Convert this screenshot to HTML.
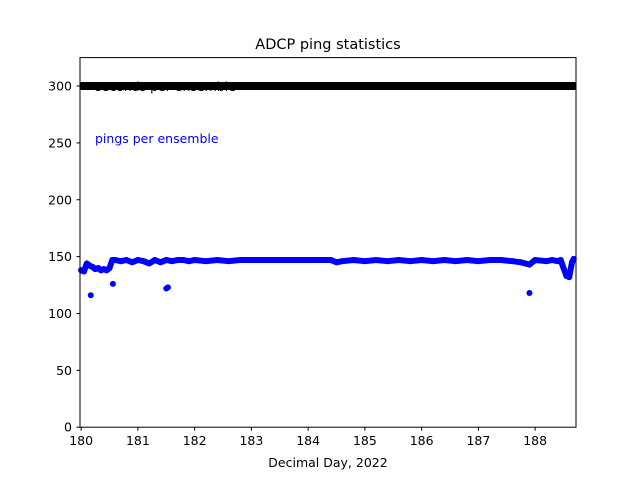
<!DOCTYPE html>
<html><head><meta charset="utf-8"><style>
body{margin:0;background:#fff;}
svg text{font-family:"DejaVu Sans","Liberation Sans",sans-serif;}
</style></head><body>
<svg id="chart" width="640" height="480" xmlns="http://www.w3.org/2000/svg">
<rect width="640" height="480" fill="#fff"/>
<text x="328" y="49" font-size="14.5" text-anchor="middle">ADCP  ping statistics</text>
<g id="plot"></g>
<rect x="80" y="57.6" width="496" height="369.6" fill="none" stroke="#000" stroke-width="1"/>
<g id="axes"></g>
<text x="328" y="467" font-size="12.5" text-anchor="middle">Decimal Day, 2022</text>
</svg>
<script>
const days = [180.0,180.05,180.1,180.15,180.2,180.25,180.3,180.35,180.4,180.45,180.5,180.55,180.6,180.7,180.8,180.9,181.0,181.1,181.2,181.3,181.4,181.5,181.6,181.7,181.8,181.9,182.0,182.2,182.4,182.6,182.8,183.0,183.2,183.4,183.6,183.8,184.0,184.2,184.4,184.5,184.6,184.8,185.0,185.2,185.4,185.6,185.8,186.0,186.2,186.4,186.6,186.8,187.0,187.2,187.4,187.6,187.75,187.9,188.0,188.2,188.3,188.4,188.45,188.5,188.55,188.6,188.65,188.68];
const pings = [138,137,144,142,141,139,140,138,139,138,140,147,147,146,147,145,147,146,144,147,145,147,146,147,147,146,147,146,147,146,147,147,147,147,147,147,147,147,147,145,146,147,146,147,146,147,146,147,146,147,146,147,146,147,147,146,145,143,147,146,147,146,147,140,133,132,145,148];
const outDays = [180.17,180.56,181.5,181.53,187.9];
const outPings = [116,126,122,123,118];
const secDays = [179.98,188.72];
const secVals = [300,300];
const yTicks = [0,50,100,150,200,250,300];
const xTicks = [180,181,182,183,184,185,186,187,188];
const X0=179.98,X1=188.72,Y0=0,Y1=325;
const xs=d=>80+(d-X0)/(X1-X0)*496;
const ys=v=>427.2-(v-Y0)/(Y1-Y0)*369.6;
const NS='http://www.w3.org/2000/svg';
const plot=document.getElementById('plot'),axes=document.getElementById('axes');
function mk(tag,parent,attrs){const e=document.createElementNS(NS,tag);for(const k in attrs)e.setAttribute(k,attrs[k]);parent.appendChild(e);return e;}
// labels
let t=mk('text',plot,{x:95,y:91,'font-size':12.5,fill:'#000'});t.textContent='seconds per ensemble';


t=mk('text',plot,{x:95,y:143,'font-size':12.5,fill:'#0000ff'});t.textContent='pings per ensemble';


// seconds line
let sl=mk('line',plot,{x1:xs(secDays[0]),y1:ys(secVals[0]),x2:xs(secDays[1]),y2:ys(secVals[1]),stroke:'#000','stroke-width':8});


// pings band
let pts=days.map((d,i)=>xs(d).toFixed(1)+','+ys(pings[i]).toFixed(1)).join(' ');
let pl=mk('polyline',plot,{points:pts,fill:'none',stroke:'#0000ff','stroke-width':6,'stroke-linejoin':'round','stroke-linecap':'round'});


days.forEach((d,i)=>{const c=mk('circle',plot,{cx:xs(d),cy:ys(pings[i]),r:3,fill:'#0000ff'});

});
outDays.forEach((d,i)=>{const c=mk('circle',plot,{cx:xs(d),cy:ys(outPings[i]),r:3,fill:'#0000ff'});

});
// axes ticks
yTicks.forEach(v=>{const y=ys(v);mk('line',axes,{x1:76.5,x2:80,y1:y,y2:y,stroke:'#000'});
const tx=mk('text',axes,{x:72,y:y+4.5,'font-size':12.5,'text-anchor':'end'});tx.textContent=v;

});
xTicks.forEach(v=>{const x=xs(v);mk('line',axes,{x1:x,x2:x,y1:427.2,y2:430.7,stroke:'#000'});
const tx=mk('text',axes,{x:x,y:445,'font-size':12.5,'text-anchor':'middle'});tx.textContent=v;

});
</script>
</body></html>
